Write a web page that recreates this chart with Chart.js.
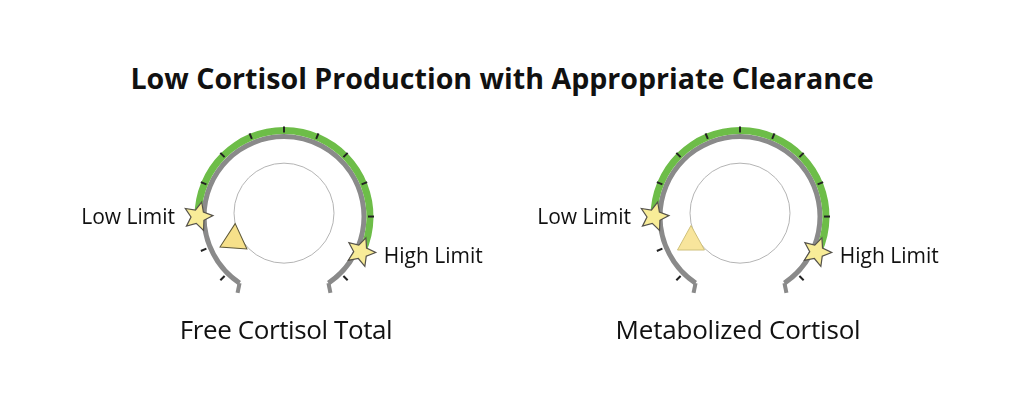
<!DOCTYPE html>
<html>
<head>
<meta charset="utf-8">
<script src="https://cdn.jsdelivr.net/npm/chart.js@4.4.0/dist/chart.umd.min.js"></script>
<style>
  html, body { margin: 0; padding: 0; background: #fff; width: 1024px; height: 416px; overflow: hidden; position: relative; font-family: 'Open Sans', sans-serif; }
  #title { position: absolute; left: -10px; width: 1024px; top: 58px; text-align: center; font-weight: 700; font-size: 28.6px; color: #111; line-height: 40px; }
  .gauge { position: absolute; width: 440px; height: 240px; top: 89px; }
  .name { position: absolute; width: 440px; top: 311px; text-align: center; font-size: 26px; line-height: 36px; color: #111; letter-spacing: -0.4px; }
</style>
</head>
<body>
<div id="title">Low Cortisol Production with Appropriate Clearance</div>
<div class="gauge" style="left:64px"><canvas id="g0"></canvas></div>
<div class="gauge" style="left:520px"><canvas id="g1"></canvas></div>
<div class="name" style="left:66px">Free Cortisol Total</div>
<div class="name" style="left:518px; letter-spacing: -0.2px">Metabolized Cortisol</div>
<script>
// gauge scale
const scaleMin = -0.5
const scaleMax = 12.5
const tickValues = [0, 1, 2, 3, 4, 5, 6, 7, 8, 9, 10, 11, 12]

// per gauge
const gaugeNames = ['Free Cortisol Total', 'Metabolized Cortisol']
const lowLimits = [2, 2]
const highLimits = [11.1, 11.1]
const results = [0.9, 0.8]
const markerFill = ['#f6e08a', '#f8e59c']
const markerStroke = ['#5e5838', '#cfc07a']
const markerTilt = [0.07, 0]

const GREEN = '#6dbd48'
const GREY = '#8a8a8a'

function drawStar(ctx, cx, cy, rOut, rIn, rot) {
  ctx.beginPath()
  for (let i = 0; i < 10; i++) {
    const r = i % 2 ? rIn : rOut
    const a = rot - Math.PI / 2 + i * Math.PI / 5
    const px = cx + Math.cos(a) * r, py = cy + Math.sin(a) * r
    i ? ctx.lineTo(px, py) : ctx.moveTo(px, py)
  }
  ctx.closePath()
  ctx.fillStyle = '#f8ec98'
  ctx.fill()
  ctx.lineWidth = 1.2
  ctx.strokeStyle = '#55524a'
  ctx.stroke()
}

const gaugeDecor = {
  id: 'gaugeDecor',
  afterDatasetsDraw(chart, args, opts) {
    const i = opts.index
    const arc = chart.getDatasetMeta(1).data[0]
    const { x, y, startAngle, endAngle, outerRadius } = arc
    const ang = v => startAngle + (v - scaleMin) / (scaleMax - scaleMin) * (endAngle - startAngle)
    const pt = (a, r) => [x + Math.cos(a) * r, y + Math.sin(a) * r]
    const ctx = chart.ctx
    ctx.save()

    // inner circle (sits a little above the ring centre)
    ctx.beginPath()
    ctx.arc(x, y - 3.4, 50, 0, Math.PI * 2)
    ctx.lineWidth = 1
    ctx.strokeStyle = '#b4b4b4'
    ctx.stroke()

    // end hooks, bent downwards
    ctx.strokeStyle = GREY
    ctx.lineWidth = 4
    ;[[startAngle, 0.2], [endAngle, -0.2]].forEach(([a, tilt]) => {
      const p1 = pt(a, outerRadius - 2.5)
      const d = Math.PI / 2 + tilt
      ctx.beginPath()
      ctx.moveTo(p1[0], p1[1])
      ctx.lineTo(p1[0] + Math.cos(d) * 10, p1[1] + Math.sin(d) * 10)
      ctx.stroke()
    })

    // ticks
    ctx.strokeStyle = '#222'
    ctx.lineWidth = 2
    tickValues.forEach(v => {
      const a = ang(v)
      const p1 = pt(a, outerRadius + 1.5), p2 = pt(a, outerRadius + 7.5)
      ctx.beginPath(); ctx.moveTo(p1[0], p1[1]); ctx.lineTo(p2[0], p2[1]); ctx.stroke()
    })

    // result marker
    const m = pt(ang(results[i]), 55)
    ctx.save()
    ctx.translate(m[0], m[1])
    ctx.rotate(markerTilt[i])
    ctx.beginPath()
    ctx.moveTo(0, -16)
    ctx.lineTo(-13.5, 8.5)
    ctx.lineTo(13.5, 8.5)
    ctx.closePath()
    ctx.fillStyle = markerFill[i]
    ctx.fill()
    ctx.lineWidth = 1
    ctx.strokeStyle = markerStroke[i]
    ctx.stroke()
    ctx.restore()

    // limit stars + labels
    const lo = pt(ang(lowLimits[i]), outerRadius + 3.5)
    const hi = pt(ang(highLimits[i]), outerRadius + 2)
    drawStar(ctx, lo[0], lo[1], 15, 7, 0.25)
    drawStar(ctx, hi[0], hi[1], 15, 7, 0.35)
    ctx.fillStyle = '#111'
    ctx.font = '21px "Open Sans"'
    ctx.textBaseline = 'middle'
    ctx.textAlign = 'right'
    ctx.fillText('Low Limit', lo[0] - 23, lo[1] + 1)
    ctx.textAlign = 'left'
    ctx.fillText('High Limit', hi[0] + 23, hi[1] + 5)
    ctx.restore()
  }
}

function createGauge(el, i) {
  return new Chart(el, {
    type: 'doughnut',
    data: {
      labels: ['below', 'normal', 'above'],
      datasets: [{
        label: 'range',
        data: [lowLimits[i] - scaleMin, highLimits[i] - lowLimits[i], scaleMax - highLimits[i]],
        backgroundColor: ['rgba(0,0,0,0)', GREEN, 'rgba(0,0,0,0)'],
        borderWidth: 0,
        weight: 7
      }, {
        label: gaugeNames[i],
        data: [scaleMax - scaleMin],
        backgroundColor: [GREY],
        borderWidth: 0,
        weight: 5
      }]
    },
    options: {
      responsive: true,
      maintainAspectRatio: false,
      animation: false,
      events: [],
      rotation: -146.25,
      circumference: 292.5,
      radius: 89.5,
      cutout: '86.59%',
      plugins: {
        legend: { display: false },
        tooltip: { enabled: false },
        gaugeDecor: { index: i }
      }
    },
    plugins: [gaugeDecor]
  })
}

createGauge(document.getElementById('g0'), 0)
createGauge(document.getElementById('g1'), 1)
</script>
</body>
</html>
